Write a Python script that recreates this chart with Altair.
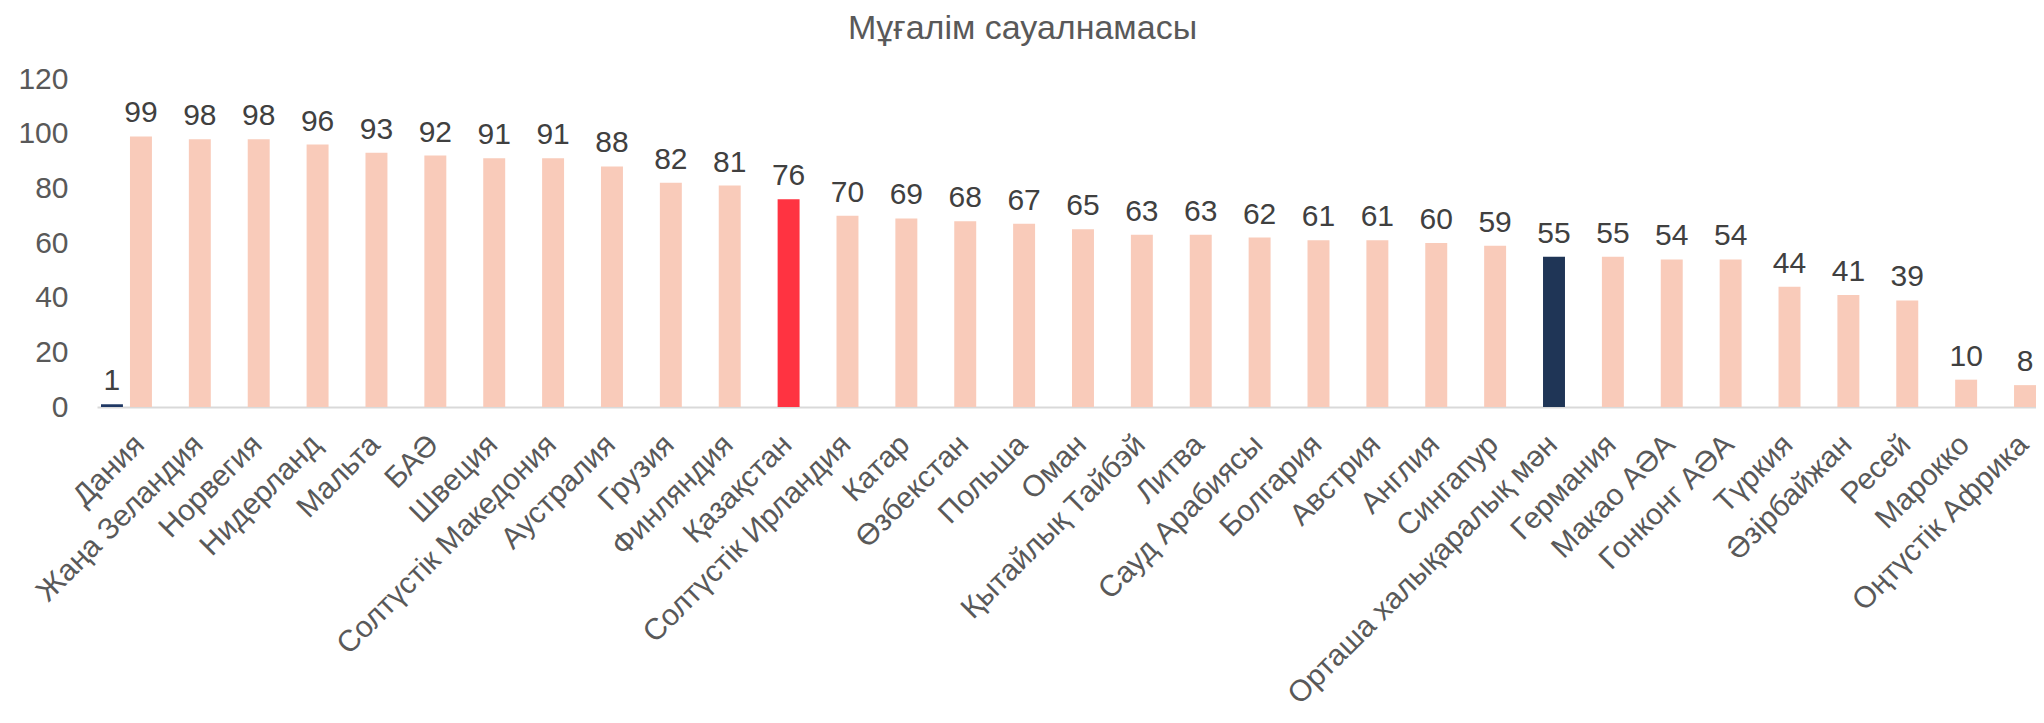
import altair as alt
import pandas as pd

countries = [
    "Дания", "Жаңа Зеландия", "Норвегия", "Нидерланд", "Мальта", "БАӘ", "Швеция",
    "Солтүстік Македония", "Аустралия", "Грузия", "Финляндия", "Қазақстан",
    "Солтүстік Ирландия", "Катар", "Өзбекстан", "Польша", "Оман", "Қытайлық Тайбэй",
    "Литва", "Сауд Арабиясы", "Болгария", "Австрия", "Англия", "Сингапур",
    "Орташа халықаралық мән", "Германия", "Макао АӘА", "Гонконг АӘА", "Түркия",
    "Әзірбайжан", "Ресей", "Марокко", "Оңтүстік Африка",
]
values = [99, 98, 98, 96, 93, 92, 91, 91, 88, 82, 81, 76, 70, 69, 68, 67, 65, 63,
          63, 62, 61, 61, 60, 59, 55, 55, 54, 54, 44, 41, 39, 10, 8]
groups = ["kz" if c == "Қазақстан" else ("avg" if c == "Орташа халықаралық мән" else "other")
          for c in countries]

extra_country = ["Дания"]
extra_value = [1]

group_domain = ["other", "kz", "avg"]
group_colors = ["#F9CBBA", "#FF3341", "#1F3556"]

FONT = "Liberation Sans"

df = pd.DataFrame({"country": countries, "value": values, "group": groups})
extra = pd.DataFrame({"country": extra_country, "value": extra_value})

xscale = alt.Scale(domain=countries, paddingInner=0.627, paddingOuter=0.28, align=1)
x_enc = alt.X(
    "country:N", scale=xscale, sort=None,
    axis=alt.Axis(
        title=None, labelAngle=-45, labelAlign="right", labelBaseline="top",
        labelPadding=22, labelOffset=-12, labelFont=FONT, labelFontSize=30,
        labelColor="#595959", ticks=False, domainColor="#D9D9D9", domainWidth=2,
        labelOverlap=False, labelLimit=0,
    ),
)
y_enc = alt.Y(
    "value:Q", scale=alt.Scale(domain=[0, 120], nice=False),
    axis=alt.Axis(
        title=None, values=[0, 20, 40, 60, 80, 100, 120], ticks=False, domain=False,
        grid=False, labelPadding=29, labelFont=FONT, labelFontSize=30,
        labelColor="#595959",
    ),
)

base = alt.Chart(df)
bars = base.mark_bar().encode(
    x=x_enc, y=y_enc,
    color=alt.Color("group:N", scale=alt.Scale(domain=group_domain, range=group_colors), legend=None),
)
labels = base.mark_text(baseline="alphabetic", dy=-14, font=FONT, fontSize=30, color="#404040").encode(
    x=alt.X("country:N", scale=xscale, sort=None), y="value:Q", text="value:Q"
)

ebase = alt.Chart(extra)
ebar = ebase.mark_bar(xOffset=-29, color="#1F3864").encode(
    x=alt.X("country:N", scale=xscale, sort=None), y="value:Q"
)
elabel = ebase.mark_text(xOffset=-29, baseline="alphabetic", dy=-14, font=FONT, fontSize=30,
                         color="#404040").encode(
    x=alt.X("country:N", scale=xscale, sort=None), y="value:Q", text="value:Q"
)

chart = alt.layer(bars, labels, ebar, elabel).properties(
    width=1939, height=328,
    title=alt.TitleParams("Мұғалім сауалнамасы", font=FONT, fontSize=34, fontWeight="normal",
                          color="#595959", anchor="middle", dx=-44, offset=18),
    autosize=alt.AutoSizeParams(type="none"),
    padding={"left": 89, "top": 71, "right": 0, "bottom": 306},
).configure_view(stroke="transparent")

chart.save("out.html", embed_options={"renderer": "svg", "actions": False})
